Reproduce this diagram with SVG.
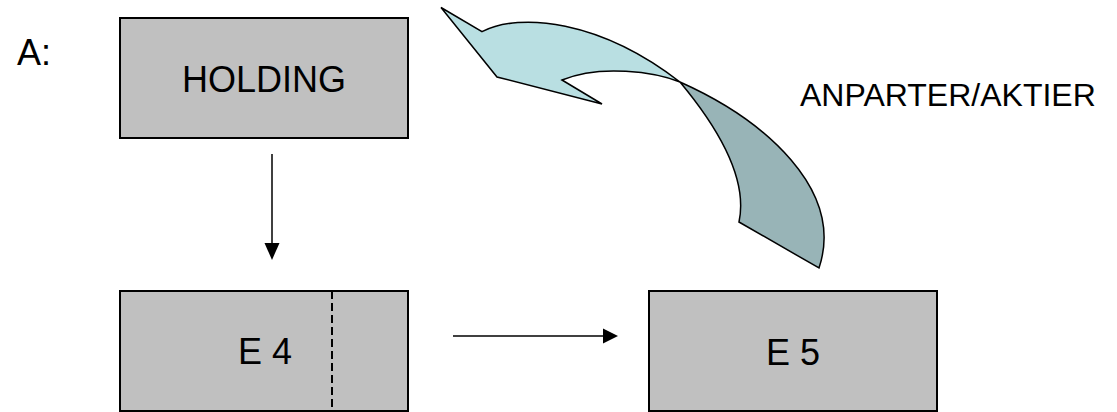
<svg xmlns="http://www.w3.org/2000/svg" width="1117" height="412" viewBox="0 0 1117 412">
<style>
.box{fill:#c0c0c0;stroke:#000;stroke-width:2}
.t{font-family:"Liberation Sans",Arial,sans-serif;font-size:36px;fill:#000}
.conn{stroke:#000;stroke-width:1.5;fill:none}
.rib{stroke:#000;stroke-width:1.5;stroke-linejoin:miter}
</style>
<defs>
<marker id="ah" markerWidth="10" markerHeight="10" refX="10" refY="5" orient="auto" markerUnits="userSpaceOnUse" viewBox="0 0 10 10">
<path d="M0,0 L10,5 L0,10 Z" fill="#000"/>
</marker>
</defs>
<rect width="1117" height="412" fill="#fff"/>
<text class="t" x="17" y="65">A:</text>
<g id="holding">
<rect class="box" x="120" y="18" width="288" height="120"/>
<text class="t" x="264" y="92" text-anchor="middle">HOLDING</text>
</g>
<g id="e4">
<rect class="box" x="120" y="291" width="288" height="120"/>
<line x1="332" y1="291" x2="332" y2="411" stroke="#000" stroke-width="2" stroke-dasharray="8,4"/>
<text class="t" x="265" y="364" text-anchor="middle">E 4</text>
</g>
<g id="e5">
<rect class="box" x="649" y="291" width="288" height="120"/>
<text class="t" x="793" y="365" text-anchor="middle">E 5</text>
</g>
<g id="connectors">
<line class="conn" x1="272" y1="154" x2="272" y2="243"/>
<path d="M264.5,243 L279.5,243 L272,260 Z" fill="#000"/>
<line class="conn" x1="453" y1="336" x2="603" y2="336"/>
<path d="M603,328.5 L618,336 L603,343.5 Z" fill="#000"/>
<g id="curved-arrow">
<path class="rib" fill="#98b4b7" d="M680,82 C765,120 845,190 819,268 L739,222 C748,180 720,130 680,82 Z"/>
<path class="rib" fill="#b9dfe2" d="M441,7.5 L482,31.7 C520,12 600,20 680,82 C655,72 600,64 562,80 L602,104 L497,77 Z"/>
</g>
</g>
<text x="800" y="106" font-family="Liberation Sans, Arial, sans-serif" font-size="32" fill="#000">ANPARTER/AKTIER</text>
</svg>
